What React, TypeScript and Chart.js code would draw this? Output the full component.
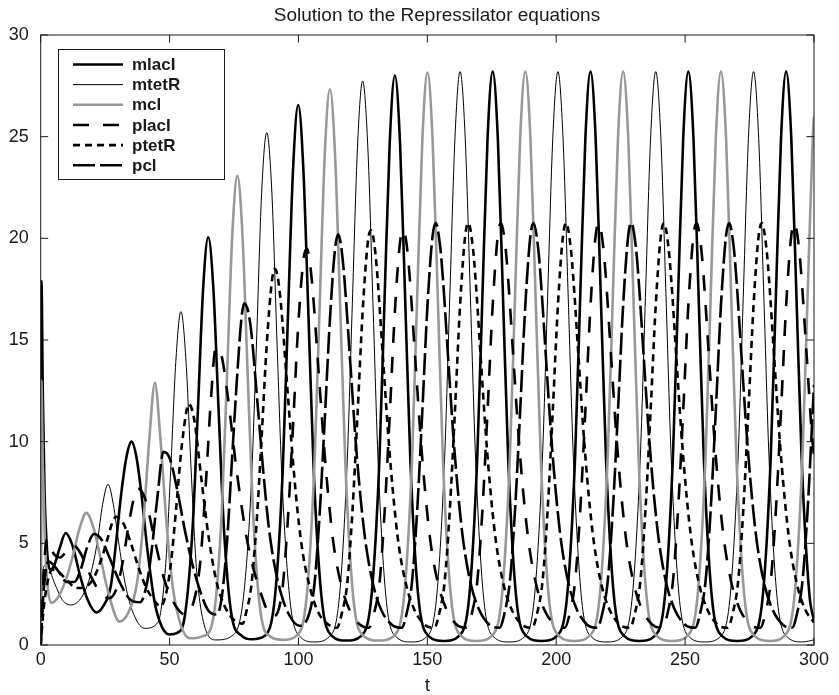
import React, { useEffect, useRef } from "react";
import { Chart, registerables } from "chart.js";

Chart.register(...registerables);

type P = [number, number][];

const TITLE = "Solution to the Repressilator equations";
const X_LABEL = "t";
const X_TICKS = [0, 50, 100, 150, 200, 250, 300];
const Y_TICKS = [0, 5, 10, 15, 20, 25, 30];
const SERIES_NAMES = ["mlacI", "mtetR", "mcl", "placI", "ptetR", "pcl"];

const mlacI: P = [
  [0, 0], [0.3, 17.9], [0.8, 12.5], [1.5, 7.5], [2.5, 4.6], [3.6, 3.7], [5.2, 3.9], [7.2, 4.7], [9.7, 5.5], [12.3, 4.9], [15.3, 3.4], [18.3, 2.2], [21.6, 1.6],
  [24.2, 1.9], [27.2, 2.9], [29.2, 5.0], [31.2, 7.4], [33.2, 9.2], [35.2, 10.0], [37.2, 9.2], [39.2, 7.3], [41.2, 4.9], [44.2, 2.1], [47, 0.9], [50, 0.52],
  [53, 0.6], [56, 1.5], [59, 5.9], [61, 11.6], [63, 17.5], [65, 20.05], [67, 17.5], [69, 11.6], [71, 5.9], [74, 1.5], [78, 0.45], [82, 0.28],
  [86.9, 0.45], [90.9, 2.4], [93.9, 8.6], [95.9, 16.1], [97.9, 23.4], [99.9, 26.56], [101.9, 23.4], [103.9, 16.1], [105.9, 8.6], [108.9, 2.4], [112.9, 0.45], [118.5, 0.22],
  [124.4, 0.45], [128.4, 2.5], [131.4, 9.1], [133.4, 17.0], [135.4, 24.7], [137.4, 28.0], [139.4, 24.7], [141.4, 17.0], [143.4, 9.1], [146.4, 2.5], [150.4, 0.45], [156.4, 0.2],
  [162.35, 0.45], [166.35, 2.5], [169.35, 9.2], [171.35, 17.1], [173.35, 24.9], [175.35, 28.2], [177.35, 24.9], [179.35, 17.1], [181.35, 9.2], [184.35, 2.5], [188.35, 0.45], [194.3, 0.2],
  [200.3, 0.45], [204.3, 2.5], [207.3, 9.2], [209.3, 17.1], [211.3, 24.9], [213.3, 28.2], [215.3, 24.9], [217.3, 17.1], [219.3, 9.2], [222.3, 2.5], [226.3, 0.45], [232.3, 0.2],
  [238.25, 0.45], [242.25, 2.5], [245.25, 9.2], [247.25, 17.1], [249.25, 24.9], [251.25, 28.2], [253.25, 24.9], [255.25, 17.1], [257.25, 9.2], [260.25, 2.5], [264.25, 0.45], [270.2, 0.2],
  [276.2, 0.45], [280.2, 2.5], [283.2, 9.2], [285.2, 17.1], [287.2, 24.9], [289.2, 28.2], [291.2, 24.9], [293.2, 17.1], [295.2, 9.2], [298.2, 2.5], [300, 1.2],
];

const mtetR: P = [
  [0, 0], [0.5, 2.8], [1.5, 3.9], [3, 3.8], [5.5, 3.0], [8.5, 2.2], [11.9, 1.97], [15, 2.2], [18, 2.9], [20, 3.8], [22, 5.1], [24, 6.9], [26.1, 7.9],
  [28.2, 6.9], [30.2, 5.1], [32.5, 3.2], [35.5, 1.7], [40.3, 0.82], [45.4, 1.1], [48.4, 3.8], [50.4, 8.5], [52.4, 13.9], [54.4, 16.4], [56.4, 13.9], [58.4, 8.5], [60.4, 3.8], [63.4, 1.0], [68, 0.25],
  [74.7, 0.5], [78.7, 2.4], [81.7, 7.9], [83.7, 14.8], [85.7, 22.2], [87.7, 25.2], [89.7, 22.2], [91.7, 14.8], [93.7, 7.9], [96.7, 2.2], [100.7, 0.4], [106, 0.15],
  [111.9, 0.4], [115.9, 2.4], [118.9, 9.0], [120.9, 16.8], [122.9, 24.5], [124.9, 27.74], [126.9, 24.5], [128.9, 16.8], [130.9, 9.0], [133.9, 2.4], [137.9, 0.4], [143.8, 0.15],
  [149.7, 0.4], [153.7, 2.5], [156.7, 9.2], [158.7, 17.1], [160.7, 24.9], [162.7, 28.2], [164.7, 24.9], [166.7, 17.1], [168.7, 9.2], [171.7, 2.5], [175.7, 0.4], [181.7, 0.15],
  [187.65, 0.4], [191.65, 2.5], [194.65, 9.2], [196.65, 17.1], [198.65, 24.9], [200.65, 28.2], [202.65, 24.9], [204.65, 17.1], [206.65, 9.2], [209.65, 2.5], [213.65, 0.4], [219.6, 0.15],
  [225.6, 0.4], [229.6, 2.5], [232.6, 9.2], [234.6, 17.1], [236.6, 24.9], [238.6, 28.2], [240.6, 24.9], [242.6, 17.1], [244.6, 9.2], [247.6, 2.5], [251.6, 0.4], [257.6, 0.15],
  [263.55, 0.4], [267.55, 2.5], [270.55, 9.2], [272.55, 17.1], [274.55, 24.9], [276.55, 28.2], [278.55, 24.9], [280.55, 17.1], [282.55, 9.2], [285.55, 2.5], [289.55, 0.4], [295.5, 0.15], [300, 0.25],
];

const mcl: P = [
  [0, 0], [0.25, 13.0], [0.8, 9.0], [1.6, 5.3], [2.6, 3.0], [4.1, 2.07], [7, 2.4], [10, 3.3], [12.5, 4.4], [15, 5.7], [17.7, 6.5], [20.4, 5.8], [23, 4.4], [26, 2.7], [30.6, 1.15],
  [34, 1.6], [37.3, 3.0], [39.8, 6.0], [42.3, 10.4], [44.3, 12.9], [46.3, 10.4], [48.8, 6.0], [51.3, 2.8], [54.3, 1.0], [57.8, 0.33],
  [63.3, 0.45], [67.3, 1.6], [70.3, 6.7], [72.3, 13.3], [74.3, 20.1], [76.3, 23.07], [78.3, 20.1], [80.3, 13.3], [82.3, 6.7], [85.3, 1.6], [89.3, 0.4], [94, 0.25],
  [99.2, 0.45], [103.2, 2.4], [106.2, 8.9], [108.2, 16.6], [110.2, 24.1], [112.2, 27.33], [114.2, 24.1], [116.2, 16.6], [118.2, 8.9], [121.2, 2.4], [125.2, 0.45], [131, 0.22],
  [137.05, 0.45], [141.05, 2.5], [144.05, 9.1], [146.05, 17.1], [148.05, 24.8], [150.05, 28.15], [152.05, 24.8], [154.05, 17.1], [156.05, 9.1], [159.05, 2.5], [163.05, 0.45], [169, 0.2],
  [175, 0.45], [179, 2.5], [182, 9.2], [184, 17.1], [186, 24.9], [188, 28.2], [190, 24.9], [192, 17.1], [194, 9.2], [197, 2.5], [201, 0.45], [207, 0.2],
  [212.95, 0.45], [216.95, 2.5], [219.95, 9.2], [221.95, 17.1], [223.95, 24.9], [225.95, 28.2], [227.95, 24.9], [229.95, 17.1], [231.95, 9.2], [234.95, 2.5], [238.95, 0.45], [244.9, 0.2],
  [250.9, 0.45], [254.9, 2.5], [257.9, 9.2], [259.9, 17.1], [261.9, 24.9], [263.9, 28.2], [265.9, 24.9], [267.9, 17.1], [269.9, 9.2], [272.9, 2.5], [276.9, 0.45], [282.9, 0.2],
  [288.5, 0.45], [292.5, 2.5], [295.5, 9.2], [297.5, 17.1], [299.5, 24.9], [300, 26.0],
];

const placI: P = [
  [0, 0], [0.8, 2.4], [1.5, 4.2], [2.3, 5.2], [3.3, 5.0], [5, 4.5], [7.5, 4.3], [10, 4.6], [12.7, 4.9], [15.5, 4.5], [19, 3.5], [23, 2.6], [26.5, 2.3],
  [29.5, 2.8], [32, 4.2], [34.5, 6.2], [37.7, 7.7], [40.5, 7.2], [44, 5.3], [48, 3.2], [52, 2.0], [56, 1.5],
  [59.5, 2.2], [62, 4.2], [64, 7.8], [66, 12.0], [67.9, 14.6], [70, 14.3], [72.5, 12.3], [76, 8.6], [80, 5.2], [85, 2.7], [89.9, 1.4],
  [91.9, 1.6], [93.9, 2.9], [95.9, 6.2], [97.9, 10.8], [99.9, 15.7], [101.9, 18.9], [103.2, 19.5], [104.9, 18.3], [107.9, 13.3], [109.9, 9.8], [111.9, 6.9], [113.9, 4.7], [116.9, 2.8], [119.9, 1.7], [123.9, 1.0], [127.4, 0.85],
  [129.4, 1.6], [131.4, 3.0], [133.4, 6.5], [135.4, 11.3], [137.4, 16.4], [139.4, 19.8], [140.7, 20.4], [142.4, 19.2], [145.4, 13.9], [147.4, 10.2], [149.4, 7.2], [151.4, 4.9], [154.4, 2.9], [157.4, 1.75], [161.4, 1.0], [165.35, 0.85],
  [167.35, 1.6], [169.35, 3.1], [171.35, 6.6], [173.35, 11.5], [175.35, 16.7], [177.35, 20.15], [178.55, 20.75], [180.35, 19.5], [181.35, 18.0], [183.35, 14.15], [185.35, 10.35], [187.35, 7.3], [189.35, 5.0], [192.35, 2.9], [195.35, 1.75], [199.35, 1.0], [203.3, 0.85],
  [205.3, 1.6], [207.3, 3.1], [209.3, 6.6], [211.3, 11.5], [213.3, 16.7], [215.3, 20.15], [216.5, 20.75], [218.3, 19.5], [219.3, 18.0], [221.3, 14.15], [223.3, 10.35], [225.3, 7.3], [227.3, 5.0], [230.3, 2.9], [233.3, 1.75], [237.3, 1.0], [241.25, 0.85],
  [243.25, 1.6], [245.25, 3.1], [247.25, 6.6], [249.25, 11.5], [251.25, 16.7], [253.25, 20.15], [254.45, 20.75], [256.25, 19.5], [257.25, 18.0], [259.25, 14.15], [261.25, 10.35], [263.25, 7.3], [265.25, 5.0], [268.25, 2.9], [271.25, 1.75], [275.25, 1.0], [279.2, 0.85],
  [281.2, 1.6], [283.2, 3.1], [285.2, 6.6], [287.2, 11.5], [289.2, 16.7], [291.2, 20.15], [292.4, 20.75], [294.2, 19.5], [295.2, 18.0], [297.2, 14.15], [299.2, 10.35], [300, 9.3],
];

const ptetR: P = [
  [0, 0], [1, 1.6], [2.5, 3.0], [4.5, 3.7], [7, 3.6], [10, 3.2], [14, 2.8], [18, 2.9], [21, 3.4], [24, 4.4], [26.1, 5.3], [28, 6.1], [29.3, 6.3],
  [32, 6.0], [35, 5.0], [38, 3.8], [41, 2.8], [44, 2.2], [46.4, 1.9], [48.4, 2.4], [50.4, 3.9], [52.4, 6.5], [54.4, 9.4], [56.4, 11.4], [57.3, 11.85],
  [59.4, 11.2], [62.4, 8.1], [64.4, 6.0], [66.4, 4.3], [68.4, 3.0], [71.4, 1.9], [74.4, 1.3], [78.4, 1.05],
  [79.7, 1.6], [81.7, 2.9], [83.7, 5.9], [85.7, 10.2], [87.7, 14.8], [89.7, 17.9], [90.9, 18.5], [92.7, 17.4], [95.7, 12.6], [97.7, 9.3], [99.7, 6.5], [101.7, 4.5], [104.7, 2.7], [107.7, 1.6], [111.7, 1.0], [114.9, 0.85],
  [116.9, 1.6], [118.9, 3.0], [120.9, 6.5], [122.9, 11.3], [124.9, 16.4], [126.9, 19.8], [128.1, 20.4], [129.9, 19.2], [132.9, 13.9], [134.9, 10.2], [136.9, 7.2], [138.9, 4.9], [141.9, 2.9], [144.9, 1.75], [148.9, 1.0], [152.7, 0.85],
  [154.7, 1.6], [156.7, 3.1], [158.7, 6.6], [160.7, 11.5], [162.7, 16.7], [164.7, 20.15], [165.9, 20.75], [167.7, 19.5], [168.7, 18.0], [170.7, 14.15], [172.7, 10.35], [174.7, 7.3], [176.7, 5.0], [179.7, 2.9], [182.7, 1.75], [186.7, 1.0], [190.65, 0.85],
  [192.65, 1.6], [194.65, 3.1], [196.65, 6.6], [198.65, 11.5], [200.65, 16.7], [202.65, 20.15], [203.85, 20.75], [205.65, 19.5], [206.65, 18.0], [208.65, 14.15], [210.65, 10.35], [212.65, 7.3], [214.65, 5.0], [217.65, 2.9], [220.65, 1.75], [224.65, 1.0], [228.6, 0.85],
  [230.6, 1.6], [232.6, 3.1], [234.6, 6.6], [236.6, 11.5], [238.6, 16.7], [240.6, 20.15], [241.8, 20.75], [243.6, 19.5], [244.6, 18.0], [246.6, 14.15], [248.6, 10.35], [250.6, 7.3], [252.6, 5.0], [255.6, 2.9], [258.6, 1.75], [262.6, 1.0], [266.55, 0.85],
  [268.55, 1.6], [270.55, 3.1], [272.55, 6.6], [274.55, 11.5], [276.55, 16.7], [278.55, 20.15], [279.75, 20.75], [281.55, 19.5], [282.55, 18.0], [284.55, 14.15], [286.55, 10.35], [288.55, 7.3], [290.55, 5.0], [293.55, 2.9], [296.55, 1.75], [300, 1.1],
];

const pcl: P = [
  [0, 0], [0.8, 2.0], [1.8, 3.5], [3, 4.1], [4.5, 4.0], [7, 3.6], [10, 3.1], [13, 3.1], [15.5, 3.7], [18, 4.8], [20.7, 5.46], [23.5, 5.2], [27, 4.2], [31, 3.0], [35, 2.2], [38.5, 2.1],
  [41, 2.9], [43, 4.6], [45.3, 7.3], [47.6, 9.5], [50, 9.2], [53, 7.6], [56, 5.6], [59, 3.9], [62, 2.6], [65, 1.7], [68.3, 1.5],
  [70.3, 2.4], [72.3, 5.1], [74.3, 9.3], [76.3, 13.4], [78, 16.2], [79, 16.8], [81.3, 15.8], [84.3, 11.6], [86.3, 8.6], [88.3, 6.0], [90.3, 4.2], [93.3, 2.5], [96.3, 1.5], [100.3, 0.95],
  [104.2, 1.55], [106.2, 3.0], [108.2, 6.4], [110.2, 11.1], [112.2, 16.0], [114.2, 19.5], [115.4, 20.2], [117.2, 18.9], [120.2, 13.7], [122.2, 10.0], [124.2, 7.1], [126.2, 4.9], [129.2, 2.85], [132.2, 1.7], [136.2, 1.0], [140.05, 0.85],
  [142.05, 1.6], [144.05, 3.1], [146.05, 6.6], [148.05, 11.5], [150.05, 16.7], [152.05, 20.15], [153.25, 20.75], [155.05, 19.5], [156.05, 18.0], [158.05, 14.15], [160.05, 10.35], [162.05, 7.3], [164.05, 5.0], [167.05, 2.9], [170.05, 1.75], [174.05, 1.0], [178, 0.85],
  [180, 1.6], [182, 3.1], [184, 6.6], [186, 11.5], [188, 16.7], [190, 20.15], [191.2, 20.75], [193, 19.5], [194, 18.0], [196, 14.15], [198, 10.35], [200, 7.3], [202, 5.0], [205, 2.9], [208, 1.75], [212, 1.0], [215.95, 0.85],
  [217.95, 1.6], [219.95, 3.1], [221.95, 6.6], [223.95, 11.5], [225.95, 16.7], [227.95, 20.15], [229.15, 20.75], [230.95, 19.5], [231.95, 18.0], [233.95, 14.15], [235.95, 10.35], [237.95, 7.3], [239.95, 5.0], [242.95, 2.9], [245.95, 1.75], [249.95, 1.0], [253.9, 0.85],
  [255.9, 1.6], [257.9, 3.1], [259.9, 6.6], [261.9, 11.5], [263.9, 16.7], [265.9, 20.15], [267.1, 20.75], [268.9, 19.5], [269.9, 18.0], [271.9, 14.15], [273.9, 10.35], [275.9, 7.3], [277.9, 5.0], [280.9, 2.9], [283.9, 1.75], [287.9, 1.0], [291.5, 0.85],
  [293.5, 1.6], [295.5, 3.1], [297.5, 6.6], [299.5, 11.5], [300, 12.8],
];

const SERIES_DATA = [mlacI, mtetR, mcl, placI, ptetR, pcl];

const FONT = '"Liberation Sans", Arial, Helvetica, sans-serif';
const INK = "#1a1a1a";
const GRAY = "#989898";

const STYLES = [
  { color: "#000000", width: 2.6, dash: [] as number[] },
  { color: "#000000", width: 1.0, dash: [] as number[] },
  { color: GRAY, width: 2.6, dash: [] as number[] },
  { color: "#000000", width: 2.6, dash: [16, 14] },
  { color: "#000000", width: 2.6, dash: [7, 5] },
  { color: "#000000", width: 2.6, dash: [22, 5] },
];

const decorPlugin = {
  id: "decor",
  afterDatasetsDraw(chart: any) {
    const ctx: CanvasRenderingContext2D = chart.ctx;
    const { left, right, top, bottom } = chart.chartArea;
    const xs = chart.scales.x;
    const ys = chart.scales.y;
    ctx.save();
    ctx.strokeStyle = INK;
    ctx.lineWidth = 1;
    ctx.setLineDash([]);
    ctx.strokeRect(left, top, right - left, bottom - top);
    const tl = 7.5;
    ctx.beginPath();
    for (const v of X_TICKS) {
      const px = xs.getPixelForValue(v);
      ctx.moveTo(px, bottom);
      ctx.lineTo(px, bottom - tl);
      ctx.moveTo(px, top);
      ctx.lineTo(px, top + tl);
    }
    for (const v of Y_TICKS) {
      const py = ys.getPixelForValue(v);
      ctx.moveTo(left, py);
      ctx.lineTo(left + tl, py);
      ctx.moveTo(right, py);
      ctx.lineTo(right - tl, py);
    }
    ctx.stroke();
    ctx.fillStyle = INK;
    ctx.font = `19px ${FONT}`;
    ctx.textAlign = "center";
    ctx.textBaseline = "alphabetic";
    ctx.fillText(TITLE, 437, 21);
    ctx.fillText(X_LABEL, (left + right) / 2, 691);
    const lx = 58.5, ly = 49.5, lw = 166, lh = 130;
    ctx.fillStyle = "#ffffff";
    ctx.fillRect(lx, ly, lw, lh);
    ctx.strokeStyle = INK;
    ctx.lineWidth = 1;
    ctx.strokeRect(lx, ly, lw, lh);
    ctx.font = `bold 17px ${FONT}`;
    ctx.textAlign = "left";
    ctx.textBaseline = "middle";
    SERIES_NAMES.forEach((name, i) => {
      const y = 64.5 + i * 20.15;
      const st = STYLES[i];
      ctx.beginPath();
      ctx.strokeStyle = st.color;
      ctx.lineWidth = st.width;
      ctx.setLineDash(st.dash);
      ctx.moveTo(73, y);
      ctx.lineTo(123, y);
      ctx.stroke();
      ctx.setLineDash([]);
      ctx.fillStyle = INK;
      ctx.fillText(name, 132, y + 1);
    });
    ctx.restore();
  },
};

export default function App() {
  const ref = useRef<HTMLCanvasElement | null>(null);
  useEffect(() => {
    if (!ref.current) return;
    const datasets = SERIES_DATA.map((d, i) => ({
      label: SERIES_NAMES[i],
      data: d.map(([x, y]) => ({ x, y })),
      borderColor: STYLES[i].color,
      borderWidth: STYLES[i].width,
      borderDash: STYLES[i].dash,
      pointRadius: 0,
      fill: false,
      cubicInterpolationMode: "monotone" as const,
      order: SERIES_NAMES.length - i,
    }));
    const chart = new Chart(ref.current, {
      type: "line",
      data: { datasets },
      options: {
        responsive: false,
        animation: false,
        events: [],
        layout: { padding: { top: 35, right: 25, left: 0, bottom: 0 } },
        plugins: { legend: { display: false }, title: { display: false }, tooltip: { enabled: false } },
        scales: {
          x: {
            type: "linear",
            min: 0,
            max: 300,
            ticks: { stepSize: 50, color: INK, font: { family: FONT, size: 18 }, padding: 4, maxRotation: 0, autoSkip: false },
            grid: { display: false, drawTicks: false },
            border: { display: false },
            afterFit: (s: any) => { s.height = 50; },
          },
          y: {
            type: "linear",
            min: 0,
            max: 30,
            ticks: { stepSize: 5, color: INK, font: { family: FONT, size: 18 }, padding: 12 },
            grid: { display: false, drawTicks: false },
            border: { display: false },
            afterFit: (s: any) => { s.width = 40.7; },
          },
        },
      },
      plugins: [decorPlugin],
    });
    return () => chart.destroy();
  }, []);
  return (
    <div style={{ position: "absolute", left: 0, top: 0, width: 839, height: 695, background: "#fff" }}>
      <canvas ref={ref} width={839} height={695} style={{ width: 839, height: 695, display: "block" }} />
    </div>
  );
}
